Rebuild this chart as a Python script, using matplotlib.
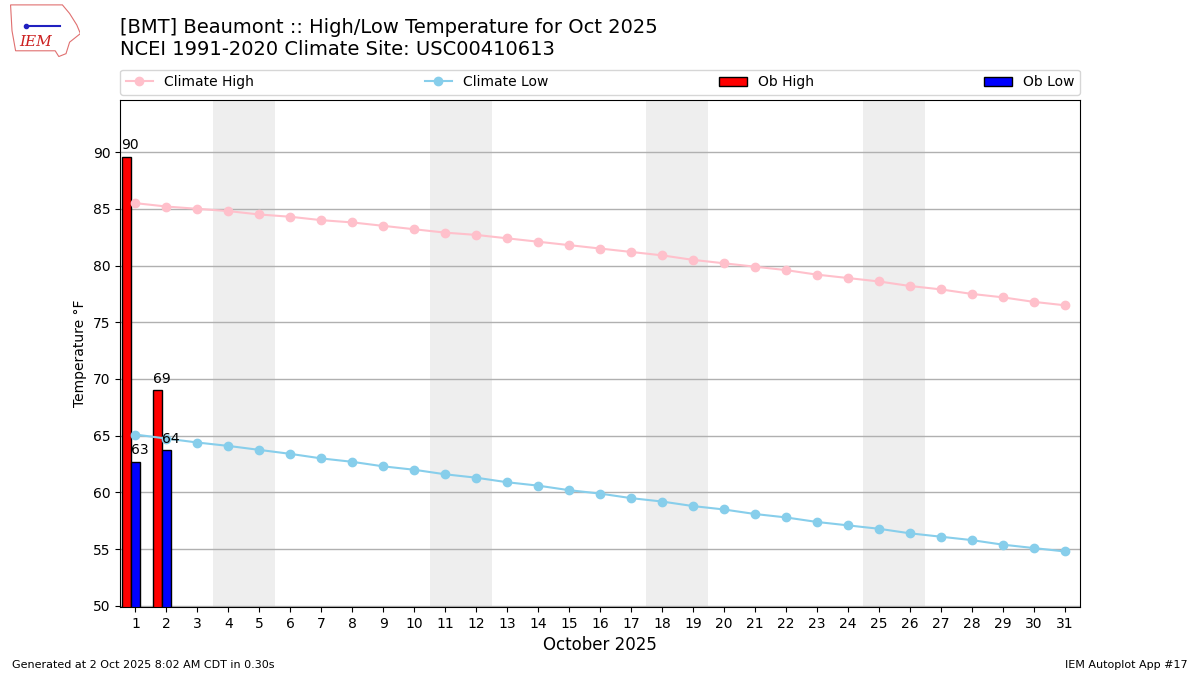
import matplotlib
matplotlib.use("Agg")
import matplotlib.pyplot as plt
from matplotlib.patches import Polygon

days = list(range(1, 32))
climate_high = [85.5, 85.2, 85.0, 84.8, 84.5, 84.3, 84.0, 83.8, 83.5, 83.2,
                82.9, 82.7, 82.4, 82.1, 81.8, 81.5, 81.2, 80.9, 80.5, 80.2,
                79.9, 79.6, 79.2, 78.9, 78.6, 78.2, 77.9, 77.5, 77.2, 76.8, 76.5]
climate_low = [65.1, 64.75, 64.4, 64.1, 63.75, 63.4, 63.0, 62.7, 62.3, 62.0,
               61.6, 61.3, 60.9, 60.6, 60.2, 59.9, 59.5, 59.2, 58.8, 58.5,
               58.1, 57.8, 57.4, 57.1, 56.8, 56.4, 56.1, 55.8, 55.4, 55.1, 54.8]
ob_days = [1, 2]
ob_high = [89.6, 69.0]
ob_low = [62.7, 63.7]
weekends = [(4, 5), (11, 12), (18, 19), (25, 26)]

fig = plt.figure(figsize=(12, 6.75), dpi=100)
ax = fig.add_axes([0.1, 0.1007, 0.8, 0.7513])

for start, end in weekends:
    ax.axvspan(start - 0.5, end + 0.5, color="#eeeeee", zorder=0, lw=0)

bar_bottom = 49.7
ax.bar([d - 0.3 for d in ob_days], [v - bar_bottom for v in ob_high],
       bottom=bar_bottom, width=0.3, color="red", edgecolor="k",
       label="Ob High", zorder=2)
ax.bar(ob_days, [v - bar_bottom for v in ob_low], bottom=bar_bottom,
       width=0.3, color="blue", edgecolor="k", label="Ob Low", zorder=2)
for d, v in zip(ob_days, ob_high):
    ax.text(d - 0.45, v + 0.4, "%.0f" % v, va="bottom", ha="left",
            fontsize=10, zorder=4)
for d, v in zip(ob_days, ob_low):
    ax.text(d - 0.15, v + 0.4, "%.0f" % v, va="bottom", ha="left",
            fontsize=10, zorder=4)

ax.plot(days, climate_high, color="pink", marker="o", lw=1.5,
        label="Climate High", zorder=3)
ax.plot(days, climate_low, color="skyblue", marker="o", lw=1.5,
        label="Climate Low", zorder=3)

ax.set_xlim(0.5, 31.5)
ax.set_ylim(49.9, 94.6)
ax.set_xticks(days)
ax.set_yticks(range(50, 91, 5))
ax.yaxis.grid(True, color="#b0b0b0", lw=1)
ax.set_axisbelow(True)
ax.set_ylabel("Temperature °F")
ax.set_xlabel("October 2025", fontsize=12)

handles, labels = ax.get_legend_handles_labels()
order = [labels.index(n) for n in ["Climate High", "Climate Low", "Ob High", "Ob Low"]]
ax.legend([handles[i] for i in order], [labels[i] for i in order],
          bbox_to_anchor=(0.0, 1.01, 1.0, 0.05), loc="lower left",
          ncol=4, mode="expand", borderaxespad=0.0, fontsize=10)

fig.text(0.1, 0.945, "[BMT] Beaumont :: High/Low Temperature for Oct 2025",
         fontsize=14, va="bottom")
fig.text(0.1, 0.912, "NCEI 1991-2020 Climate Site: USC00410613",
         fontsize=14, va="bottom")
fig.text(0.01, 0.01, "Generated at 2 Oct 2025 8:02 AM CDT in 0.30s", fontsize=8)
fig.text(0.99, 0.01, "IEM Autoplot App #17", fontsize=8, ha="right")

# small IEM logo
lax = fig.add_axes([0.007, 0.912, 0.06, 0.085])
lax.set_xlim(0, 1)
lax.set_ylim(0, 1)
lax.axis("off")
outline = [(0.03, 0.95), (0.75, 0.95), (0.85, 0.8), (0.95, 0.6), (1.0, 0.45),
           (0.85, 0.3), (0.8, 0.1), (0.7, 0.05), (0.65, 0.15), (0.1, 0.15),
           (0.05, 0.5)]
lax.add_patch(Polygon(outline, closed=True, fill=False, edgecolor="#e07070", lw=0.8))
lax.plot([0.25, 0.72], [0.58, 0.58], color="#2020c0", lw=1.5)
lax.plot([0.25], [0.58], "o", color="#2020c0", ms=3)
lax.text(0.38, 0.3, "IEM", color="#cc2020", fontsize=11, family="serif",
         style="italic", ha="center", va="center")

fig.savefig("out.png", dpi=100)
